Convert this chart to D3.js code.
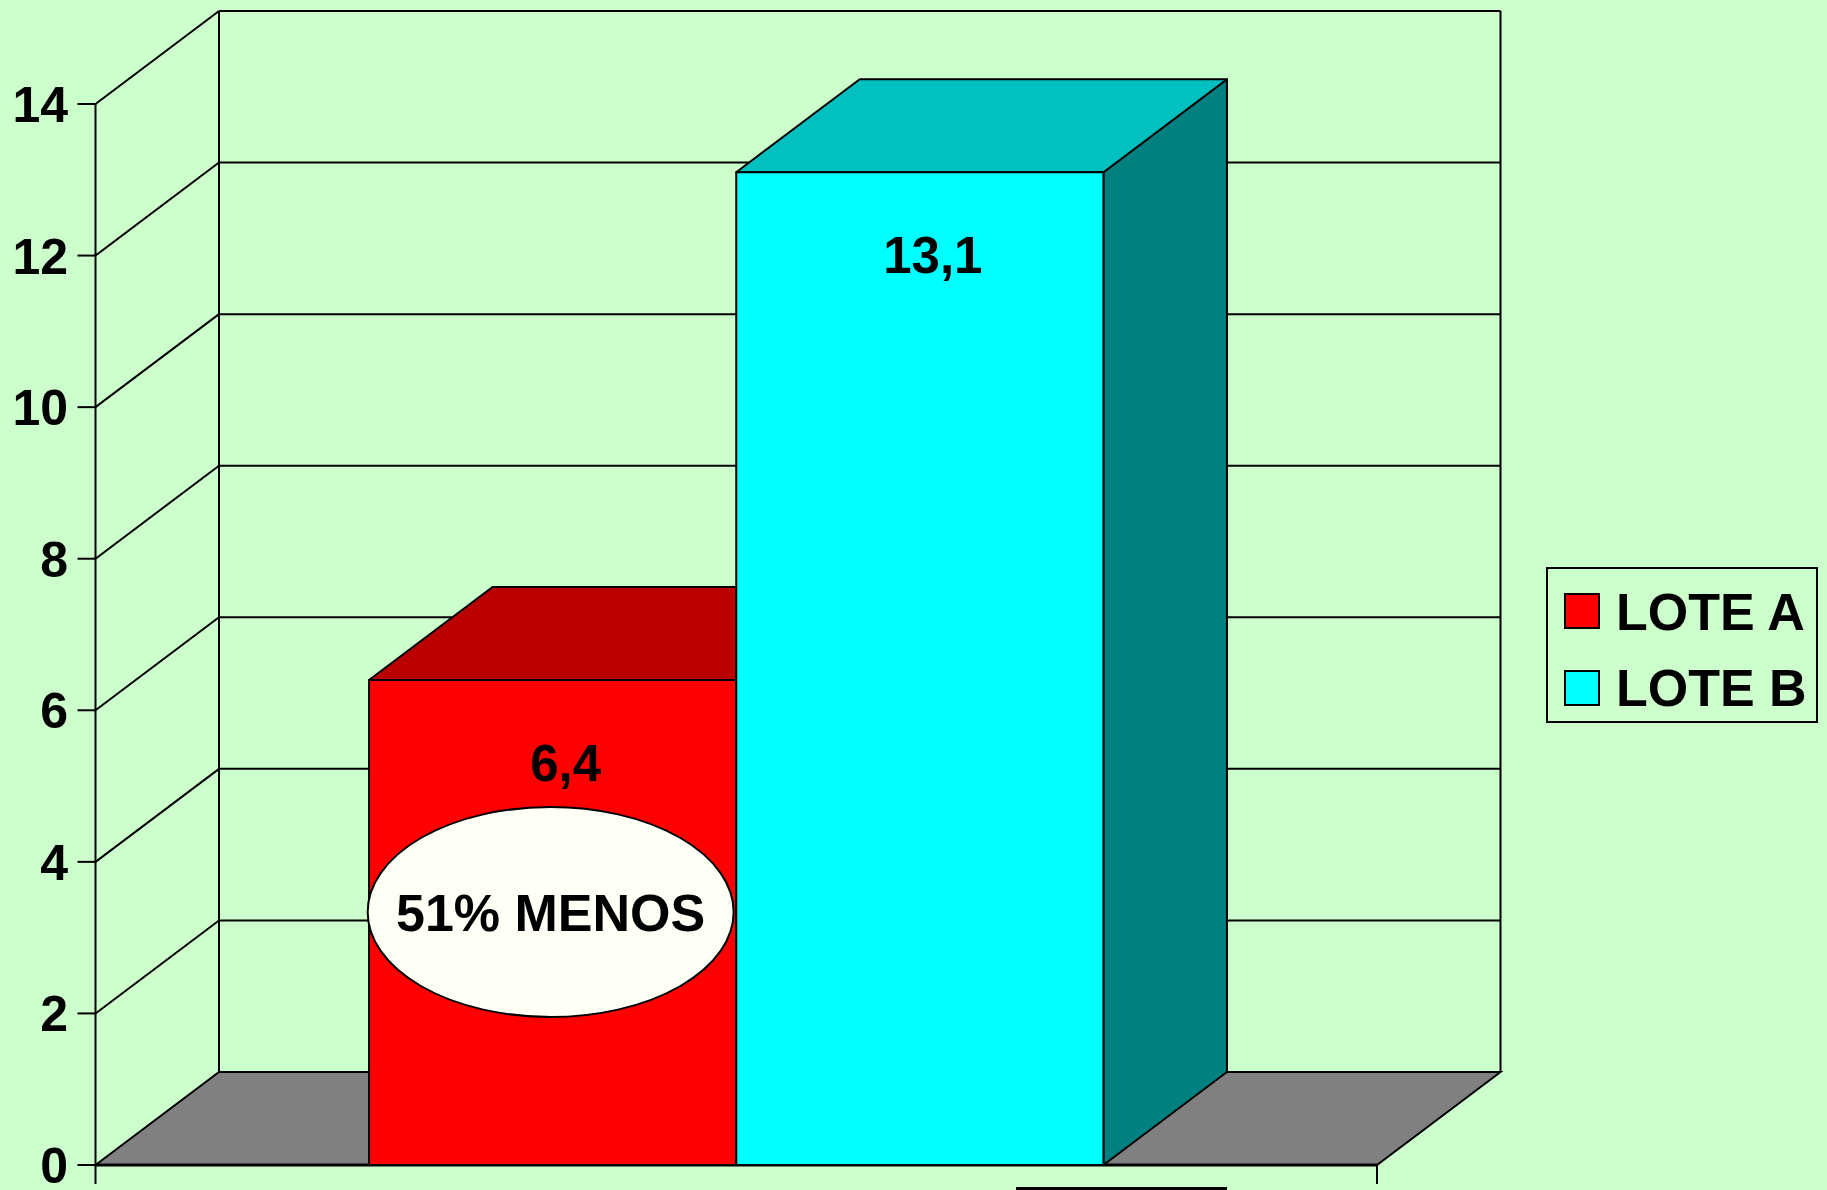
<!DOCTYPE html>
<meta charset="utf-8">
<script src="https://d3js.org/d3.v7.min.js"></script>
<style>
  body { margin: 0; background: #CCFFCC; }
  text { font-family: "Liberation Sans", Arial, sans-serif; font-weight: bold; }
</style>
<div id="chart"></div>
<script>
// data
var series = ["LOTE A", "LOTE B"];
var values = [6.4, 13.1];
var valueLabels = ["6,4", "13,1"];
var yTicks = [0, 2, 4, 6, 8, 10, 12, 14];
var note = "51% MENOS";

var W = 1827, H = 1190;
var frontLeft = 95.5, frontRight = 1377;
var depthX = 123.5, depthY = -93;   // 3d offset of the back wall

var svg = d3.select("#chart").append("svg")
  .attr("width", W).attr("height", H)
  .style("background", "#CCFFCC");

var y = d3.scaleLinear().domain([0, 14]).range([1165, 104]);
var x = d3.scaleBand().domain(series).range([frontLeft, frontRight])
  .paddingInner(0).paddingOuter(0.745);

var colors = {
  "LOTE A": {front: "#FF0000", top: "#BB0000", side: "#800000"},
  "LOTE B": {front: "#00FFFF", top: "#00C0C0", side: "#008080"}
};

var backL = frontLeft + depthX, backR = frontRight + depthX;

// back wall grid lines + side wall diagonals
var grid = svg.append("g").attr("stroke", "#000").attr("stroke-width", 2);
yTicks.filter(function(t){ return t > 0; }).forEach(function(t) {
  grid.append("line")
    .attr("x1", backL).attr("x2", backR)
    .attr("y1", y(t) + depthY).attr("y2", y(t) + depthY);
  grid.append("line")
    .attr("x1", frontLeft).attr("y1", y(t))
    .attr("x2", backL).attr("y2", y(t) + depthY);
});
// back wall vertical borders
grid.append("line").attr("x1", backL).attr("x2", backL)
  .attr("y1", y(14) + depthY).attr("y2", y(0) + depthY);
grid.append("line").attr("x1", backR).attr("x2", backR)
  .attr("y1", y(14) + depthY).attr("y2", y(0) + depthY);

// floor
svg.append("polygon")
  .attr("points", [[frontLeft, y(0)], [backL, y(0) + depthY], [backR, y(0) + depthY], [frontRight, y(0)]].join(" "))
  .attr("fill", "#808080").attr("stroke", "#000").attr("stroke-width", 2);
svg.append("line")
  .attr("x1", frontLeft).attr("x2", frontRight)
  .attr("y1", y(0)).attr("y2", y(0))
  .attr("stroke", "#000").attr("stroke-width", 3);

// bars
series.forEach(function(s, i) {
  var x0 = x(s), x1 = x(s) + x.bandwidth(), yt = y(values[i]), yb = y(0);
  var c = colors[s];
  var g = svg.append("g").attr("stroke", "#000").attr("stroke-width", 2).attr("stroke-linejoin", "round");
  g.append("polygon")
    .attr("points", [[x1, yt], [x1 + depthX, yt + depthY], [x1 + depthX, yb + depthY], [x1, yb]].join(" "))
    .attr("fill", c.side);
  g.append("polygon")
    .attr("points", [[x0, yt], [x0 + depthX, yt + depthY], [x1 + depthX, yt + depthY], [x1, yt]].join(" "))
    .attr("fill", c.top);
  g.append("rect")
    .attr("x", x0).attr("y", yt)
    .attr("width", x.bandwidth()).attr("height", yb - yt)
    .attr("fill", c.front);
});

// value labels
svg.selectAll(".vlabel")
  .data(values)
  .enter().append("text")
    .attr("class", "vlabel")
    .attr("x", function(d, i){ return x(series[i]) + x.bandwidth() / 2 + 13; })
    .attr("y", function(d){ return y(d) + 101; })
    .attr("text-anchor", "middle")
    .style("font-size", "51px")
    .text(function(d, i){ return valueLabels[i]; });

// note ellipse on lote A
var ex = x(series[0]) + x.bandwidth() / 2 - 2;
svg.append("ellipse")
  .attr("cx", ex).attr("cy", 912)
  .attr("rx", 183).attr("ry", 105)
  .attr("fill", "#FFFFF6").attr("stroke", "#000").attr("stroke-width", 2);
svg.append("text")
  .attr("x", ex).attr("y", 931)
  .attr("text-anchor", "middle")
  .style("font-size", "52px")
  .text(note);

// y axis
var axis = svg.append("g").attr("stroke", "#000").attr("stroke-width", 2);
axis.append("line").attr("x1", frontLeft).attr("x2", frontLeft)
  .attr("y1", y(14)).attr("y2", y(0) + 19);
axis.append("line").attr("x1", frontRight).attr("x2", frontRight)
  .attr("y1", y(0)).attr("y2", y(0) + 19);
yTicks.forEach(function(t) {
  axis.append("line")
    .attr("x1", frontLeft - 18).attr("x2", frontLeft)
    .attr("y1", y(t)).attr("y2", y(t));
});
svg.selectAll(".ytick")
  .data(yTicks)
  .enter().append("text")
    .attr("class", "ytick")
    .attr("x", 68)
    .attr("y", function(d){ return y(d); })
    .attr("dy", "0.36em")
    .attr("text-anchor", "end")
    .style("font-size", "50px")
    .text(function(d){ return d; });

// legend
var lg = svg.append("g");
lg.append("rect")
  .attr("x", 1547).attr("y", 568).attr("width", 270).attr("height", 154)
  .attr("fill", "none").attr("stroke", "#000").attr("stroke-width", 2);
series.forEach(function(s, i) {
  lg.append("rect")
    .attr("x", 1565).attr("y", 594 + i * 77).attr("width", 34).attr("height", 34)
    .attr("fill", colors[s].front).attr("stroke", "#000").attr("stroke-width", 2);
  lg.append("text")
    .attr("x", 1616).attr("y", 630 + i * 76)
    .style("font-size", "52px")
    .text(s);
});

// edge of a box cut off at the bottom
svg.append("line")
  .attr("x1", 1016).attr("x2", 1227)
  .attr("y1", 1188.5).attr("y2", 1188.5)
  .attr("stroke", "#000").attr("stroke-width", 3);
</script>
